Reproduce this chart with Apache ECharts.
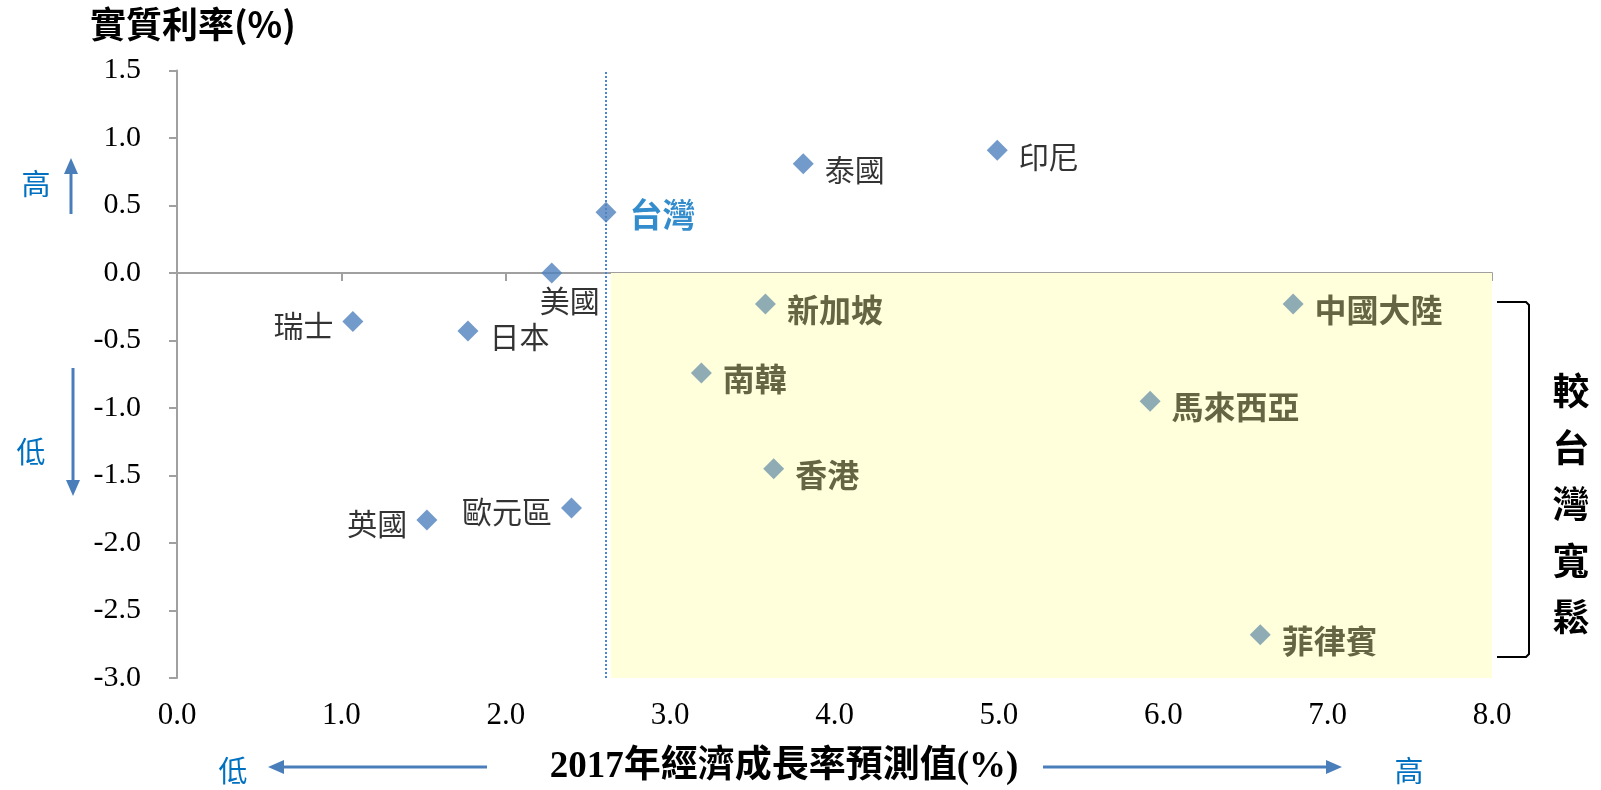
<!DOCTYPE html>
<html>
<head>
<meta charset="utf-8">
<script src="https://cdn.jsdelivr.net/npm/echarts@6/dist/echarts.min.js"></script>
<style>html,body{margin:0;padding:0;background:#fff;}#c{width:1601px;height:790px;}</style>
</head>
<body>
<div id="c"></div>
<script>
// ---- data ----
const baseNames  = ['泰國', '印尼', '美國', '瑞士', '日本', '歐元區', '英國'];
const baseGrowth = [3.81, 4.99, 2.28, 1.07, 1.77, 2.40, 1.52];
const baseRate   = [0.81, 0.91, 0.00, -0.36, -0.43, -1.74, -1.83];

const looseNames  = ['新加坡', '中國大陸', '南韓', '馬來西亞', '香港', '菲律賓'];
const looseGrowth = [3.58, 6.79, 3.19, 5.92, 3.63, 6.59];
const looseRate   = [-0.23, -0.23, -0.74, -0.95, -1.45, -2.68];

const twName   = '台灣';
const twGrowth = 2.61;
const twRate   = 0.45;

const shadeFrom = [2.64, 0];
const shadeTo   = [8, -3];

const xTicks = [0, 1, 2, 3, 4, 5, 6, 7, 8];
const yTicks = [-3.0, -2.5, -2.0, -1.5, -1.0, -0.5, 0.0, 0.5, 1.0, 1.5];

// ---- styles ----
const SERIF = '"Liberation Serif", "Times New Roman", "Noto Sans CJK TC", serif';
const CJK = '"Noto Sans CJK TC", "Noto Sans CJK SC", sans-serif';
const BLUE = '#4f81bd';
const LOOSE = '#7397ab';
const ANNO = '#4a7ebb';

const labelLeft = { '瑞士': 1, '歐元區': 1, '英國': 1 };

function basePoint(i) {
  const n = baseNames[i];
  const p = { name: n, value: [baseGrowth[i], baseRate[i]] };
  if (n === '美國') {
    p.label = { position: 'bottom', offset: [18, -3] };
  } else if (labelLeft[n]) {
    p.label = { position: 'left', distance: 9, offset: [0, 4] };
  } else {
    p.label = { position: 'right', distance: 11, offset: [0, 6] };
  }
  return p;
}

const chart = echarts.init(document.getElementById('c'), null, { renderer: 'canvas' });

const axisGray = '#a0a0a0';

function arrow(x1, y1, x2, y2) {
  const dx = x2 - x1, dy = y2 - y1;
  const len = Math.sqrt(dx * dx + dy * dy);
  const ux = dx / len, uy = dy / len;
  const hl = 16, hw = 7;
  const bx = x2 - ux * hl, by = y2 - uy * hl;
  return [
    { type: 'line', shape: { x1: x1, y1: y1, x2: bx, y2: by }, style: { stroke: ANNO, lineWidth: 3 }, silent: true },
    { type: 'polygon', shape: { points: [[x2, y2], [bx - uy * hw, by + ux * hw], [bx + uy * hw, by - ux * hw]] }, style: { fill: ANNO }, silent: true }
  ];
}

const graphics = [
  { type: 'text', left: 90, top: 6, style: { text: '實質利率(%)', font: 'bold 36px ' + CJK, fill: '#000' } },
  { type: 'text', x: 784, y: 767, style: { text: '2017年經濟成長率預測值(%)', font: 'bold 37px ' + SERIF, fill: '#000', align: 'center', verticalAlign: 'middle' } },
  { type: 'text', x: 36, y: 184, style: { text: '高', font: '29px ' + CJK, fill: '#0070c0', align: 'center', verticalAlign: 'middle' } },
  { type: 'text', x: 31, y: 452, style: { text: '低', font: '29px ' + CJK, fill: '#0070c0', align: 'center', verticalAlign: 'middle' } },
  { type: 'text', x: 233, y: 771, style: { text: '低', font: '29px ' + CJK, fill: '#0070c0', align: 'center', verticalAlign: 'middle' } },
  { type: 'text', x: 1409, y: 771, style: { text: '高', font: '29px ' + CJK, fill: '#0070c0', align: 'center', verticalAlign: 'middle' } },
  { type: 'text', x: 1571, y: 363, style: { text: '較\n台\n灣\n寬\n鬆', font: 'bold 37px ' + CJK, fill: '#000', align: 'center', verticalAlign: 'top', lineHeight: 56.5 } },
  { type: 'polyline', shape: { points: [[1497, 302], [1526, 302], [1529, 305], [1529, 654], [1526, 657], [1497, 657]] }, style: { stroke: '#000', lineWidth: 2, fill: null }, silent: true }
].concat(arrow(71, 214, 71, 158), arrow(73, 368, 73, 496), arrow(487, 767, 268, 767), arrow(1043, 767, 1342, 767));

chart.setOption({
  animation: false,
  backgroundColor: '#ffffff',
  grid: { left: 177, right: 109, top: 70.5, bottom: 112, containLabel: false },
  xAxis: [
    {
      type: 'value', min: xTicks[0], max: xTicks[xTicks.length - 1], interval: 1,
      axisLine: { show: true, onZero: true, lineStyle: { color: axisGray, width: 2 } },
      axisTick: { show: true, length: 8, lineStyle: { color: axisGray, width: 2 } },
      axisLabel: { show: false },
      splitLine: { show: false }
    },
    {
      type: 'value', position: 'bottom', min: xTicks[0], max: xTicks[xTicks.length - 1], interval: 1,
      axisLine: { show: false, onZero: false },
      axisTick: { show: false },
      axisLabel: { show: true, margin: 22, fontFamily: SERIF, fontSize: 31, color: '#000', formatter: v => v.toFixed(1) },
      splitLine: { show: false }
    }
  ],
  yAxis: {
    type: 'value', min: yTicks[0], max: yTicks[yTicks.length - 1], interval: 0.5,
    axisLine: { show: true, onZero: false, lineStyle: { color: axisGray, width: 2 } },
    axisTick: { show: true, length: 8, lineStyle: { color: axisGray, width: 2 } },
    axisLabel: { margin: 36, fontFamily: SERIF, fontSize: 30, color: '#000', formatter: v => v.toFixed(1) },
    splitLine: { show: false }
  },
  series: [
    {
      type: 'scatter', name: 'shade', xAxisIndex: 0, data: [], silent: true,
      markArea: {
        silent: true,
        itemStyle: { color: '#ffffdc' },
        data: [[{ coord: shadeFrom }, { coord: shadeTo }]]
      },
      z: 1
    },
    {
      type: 'scatter', name: 'base', xAxisIndex: 0, symbol: 'diamond', symbolSize: 21,
      itemStyle: { color: BLUE },
      label: { show: true, formatter: '{b}', fontFamily: CJK, fontSize: 30, color: '#000' },
      data: baseNames.map((n, i) => basePoint(i)),
      z: 5
    },
    {
      type: 'scatter', name: 'loose', xAxisIndex: 0, symbol: 'diamond', symbolSize: 21,
      itemStyle: { color: LOOSE },
      label: { show: true, formatter: '{b}', position: 'right', distance: 11, offset: [0, 6], fontFamily: CJK, fontSize: 32, fontWeight: 'bold', color: '#3f3e1e' },
      data: looseNames.map((n, i) => ({ name: n, value: [looseGrowth[i], looseRate[i]] })),
      z: 5
    },
    {
      type: 'scatter', name: 'tw', xAxisIndex: 0, symbol: 'diamond', symbolSize: 21,
      itemStyle: { color: BLUE },
      label: { show: true, formatter: '{b}', position: 'right', distance: 13, offset: [0, 2], fontFamily: CJK, fontSize: 33, fontWeight: 'bold', color: '#0070c0' },
      data: [{ name: twName, value: [twGrowth, twRate] }],
      markLine: {
        silent: true, symbol: 'none', label: { show: false },
        lineStyle: { type: 'dotted', color: '#4a86d0', width: 2 },
        data: [{ xAxis: twGrowth }]
      },
      z: 6
    }
  ],
  graphic: graphics
});
</script>
</body>
</html>
